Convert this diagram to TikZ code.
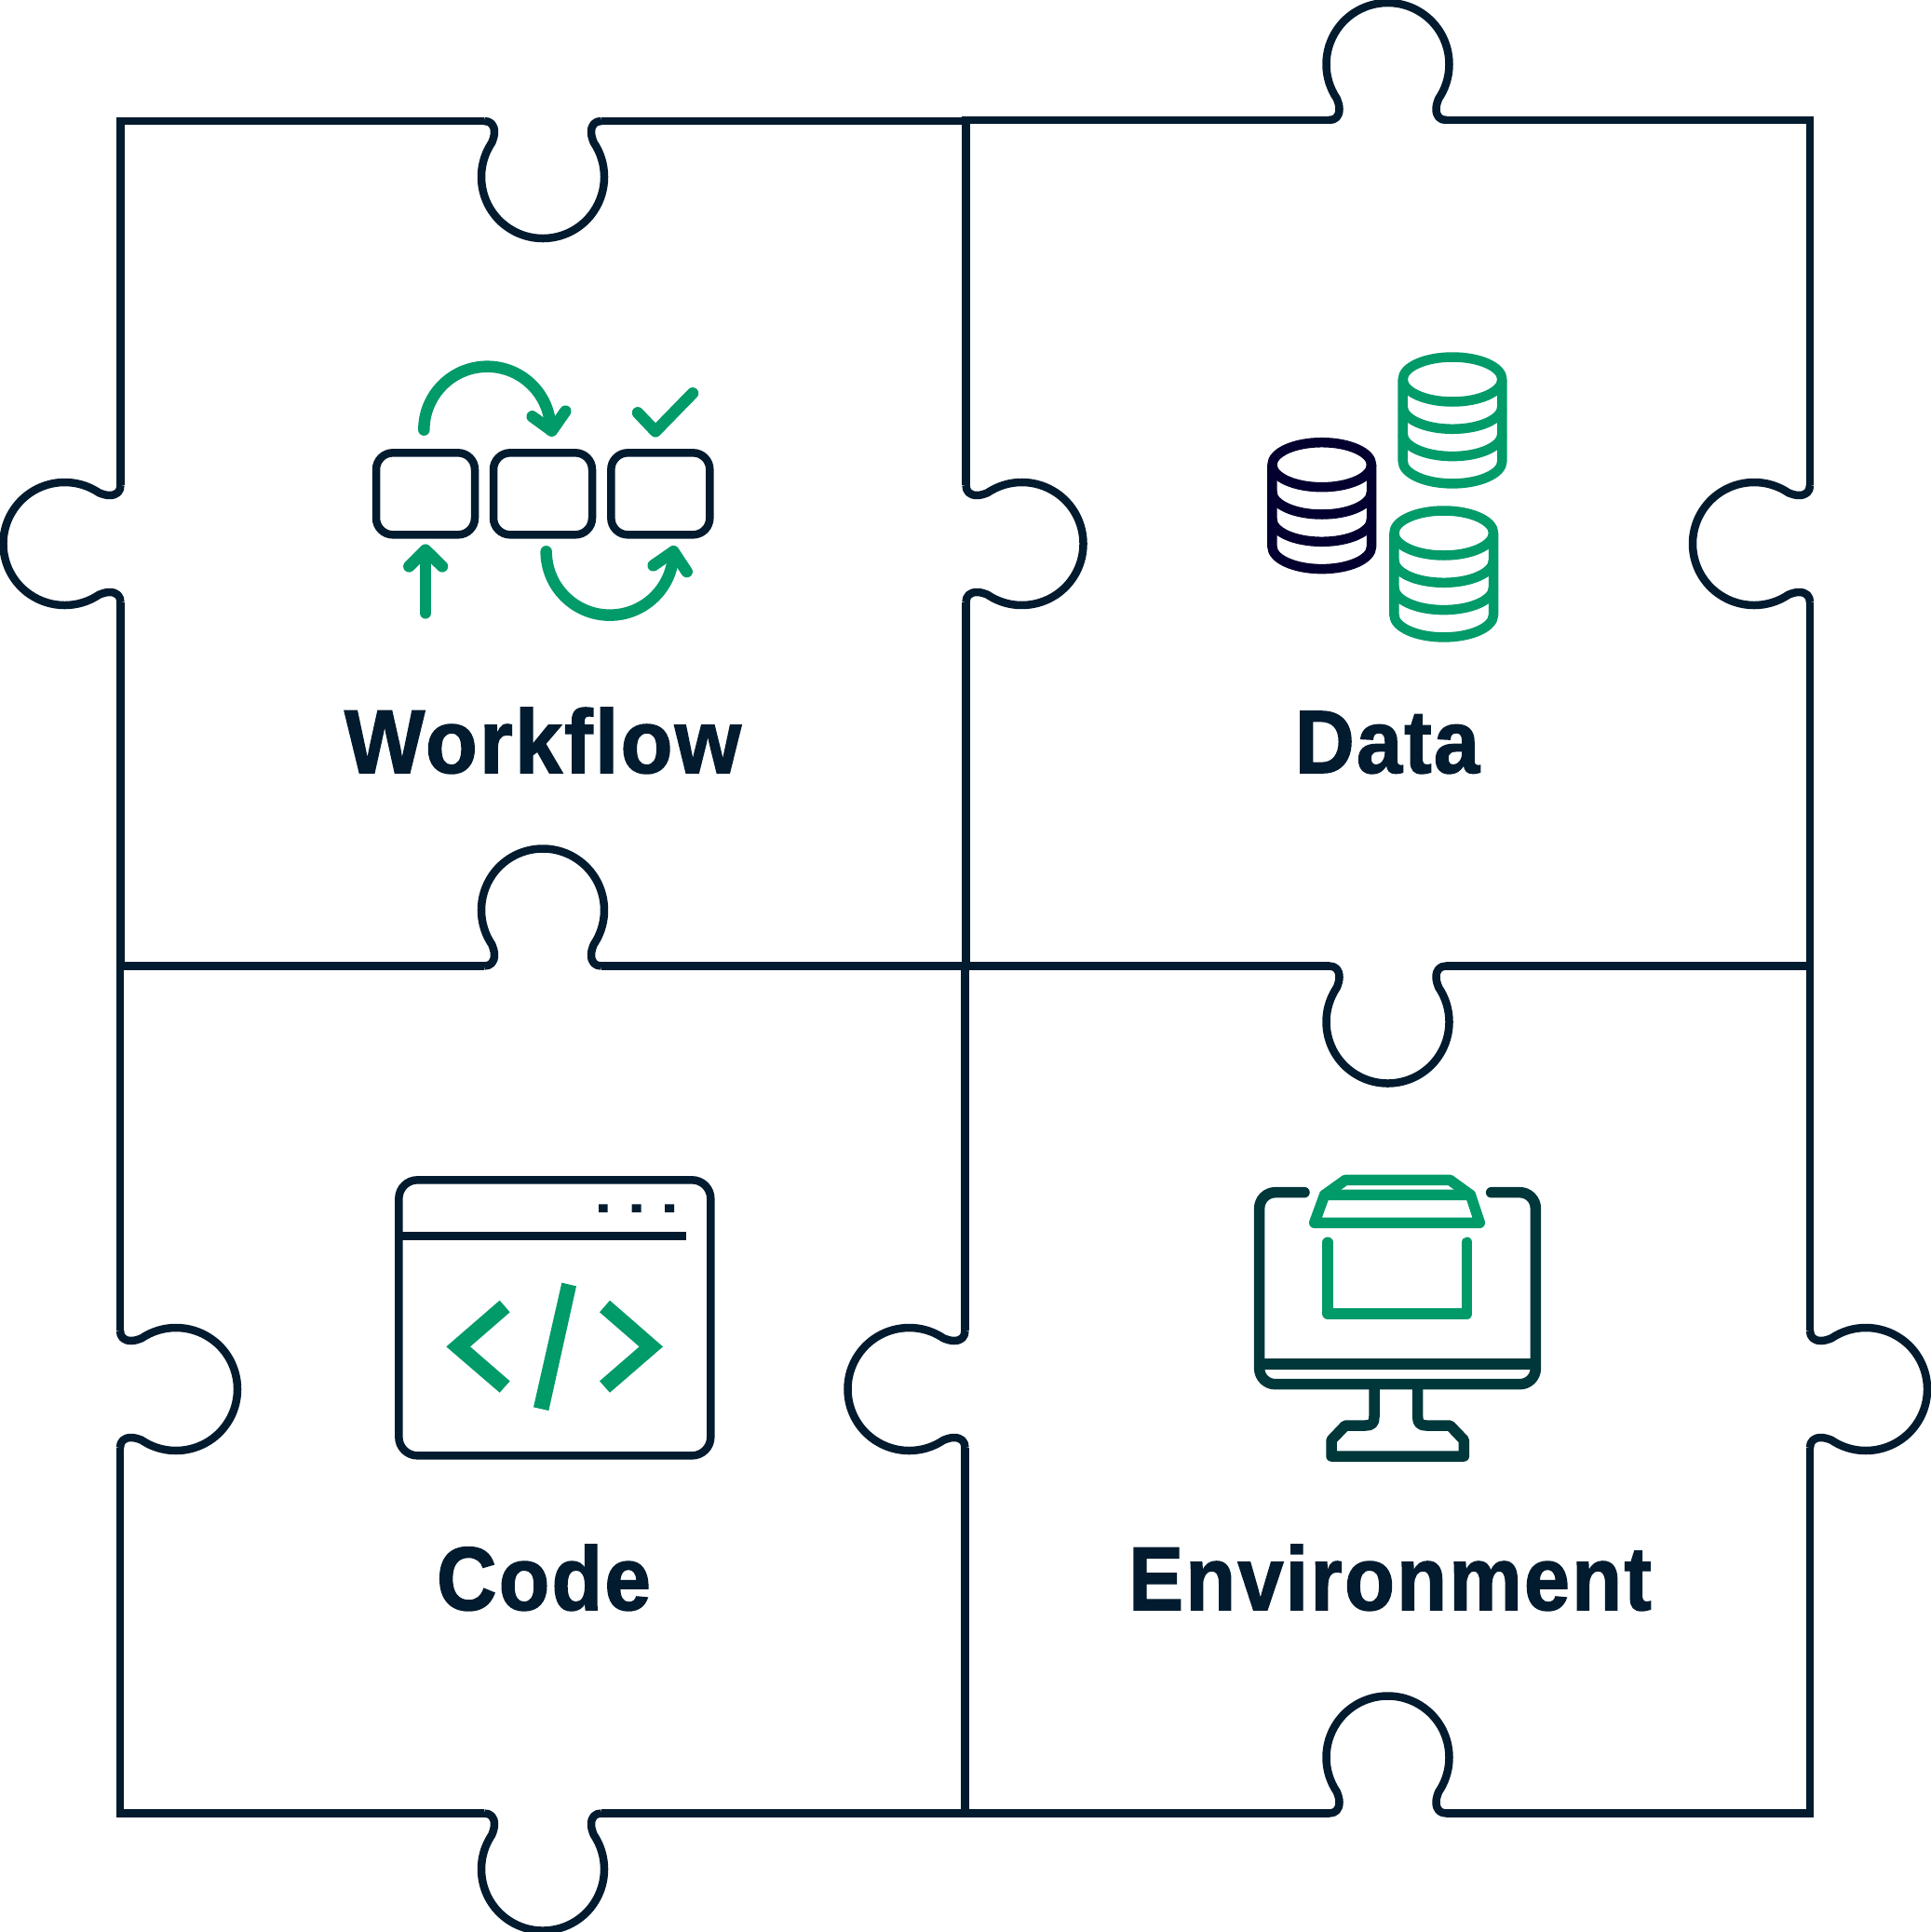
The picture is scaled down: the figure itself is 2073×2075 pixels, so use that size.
\documentclass[tikz,border=0pt]{standalone}
\usepackage{fontspec}
\usepackage{graphicx}
\newfontfamily\lab{Liberation Sans}[BoldFeatures={FakeBold=1.6,LetterSpace=2.5}]
\definecolor{navy}{HTML}{021B2F}
\definecolor{leaf}{HTML}{019A69}
\definecolor{ink}{HTML}{03002F}
\definecolor{teal}{HTML}{00373A}
\tikzset{
  frame/.style={draw=navy,line width=8.5pt,line cap=rect,line join=miter},
  knobline/.style={draw=navy,line width=8.5pt,line join=round},
  zoomed/.style={x=0.33333pt,y=-0.33333pt},
  gline/.style={draw=leaf,line width=12.5pt,line cap=round,line join=round},
  wbox/.style={draw=navy,line width=8.5pt,rounded corners=18pt},
  drum/.style={line width=10.5pt,line join=round},
  mon/.style={draw=teal,line width=11.5pt,line cap=round,line join=round},
  gbox/.style={draw=leaf,line width=11.5pt,line cap=round,line join=round},
  label/.style={anchor=base,inner sep=0pt,text=navy},
}
\newcommand{\knob}[3]{%
  \begin{scope}[shift={(#1,#2)},rotate=#3]
    \path[knobline] (-63,0) .. controls (-56,0) and (-52,4) .. (-52,12)
      .. controls (-52,16) and (-53.5,20) .. (-54.7,23.1)
      arc[start angle=214,end angle=-34,radius=66]
      .. controls (53.5,20) and (52,16) .. (52,12)
      .. controls (52,4) and (56,0) .. (63,0);
  \end{scope}}
% one stacked cylinder: centre x, first ellipse y, colour
\newcommand{\stack}[3]{%
  \begin{scope}[drum,draw=#3,shift={(#1,#2)}]
    \draw (0,0) ellipse[x radius=53.3,y radius=24];
    \draw (-53.3,0) -- (-53.3,87.9) arc[start angle=180,end angle=0,x radius=53.3,y radius=24] -- (53.3,0);
    \draw (-53.3,29.3) arc[start angle=180,end angle=0,x radius=53.3,y radius=24];
    \draw (-53.3,58.6) arc[start angle=180,end angle=0,x radius=53.3,y radius=24];
  \end{scope}}
\begin{document}
\begin{tikzpicture}[x=1pt,y=-1pt]
\useasboundingbox (0,0) rectangle (2073,2075);
% ---- frame
\path[frame] (129.5,130) -- (516.2,130) (649.8,130) -- (1037.5,130);
\path[frame] (1037.5,129) -- (1423.7,129) (1557.3,129) -- (1944,129);
\path[frame] (129,1037.5) -- (516.2,1037.5) (649.8,1037.5) -- (1423.7,1037.5) (1557.3,1037.5) -- (1944,1037.5);
\path[frame] (129,1947.5) -- (516.2,1947.5) (649.8,1947.5) -- (1423.7,1947.5) (1557.3,1947.5) -- (1944,1947.5);
\path[frame] (129.5,130) -- (129.5,517.2) (129.5,650.8) -- (129.5,1037.5);
\path[frame] (129,1037.5) -- (129,1425.2) (129,1558.8) -- (129,1947.5);
\path[frame] (1037.5,130) -- (1037.5,517.2) (1037.5,650.8) -- (1037.5,1037.5);
\path[frame] (1036.5,1037.5) -- (1036.5,1425.2) (1036.5,1558.8) -- (1036.5,1947.5);
\path[frame] (1944,129) -- (1944,517.2) (1944,650.8) -- (1944,1425.2) (1944,1558.8) -- (1944,1947.5);
\knob{583}{130}{0}
\knob{1490.5}{129}{180}
\knob{583}{1037.5}{180}
\knob{1490.5}{1037.5}{0}
\knob{583}{1947.5}{0}
\knob{1490.5}{1947.5}{180}
\knob{129.5}{584}{-90}
\knob{1037.5}{584}{90}
\knob{1944}{584}{-90}
\knob{129}{1492}{90}
\knob{1036.5}{1492}{-90}
\knob{1944}{1492}{90}
% ---- workflow icon
\begin{scope}[shift={(370,360)},zoomed]
  \draw[wbox] (102,379) rectangle (420,643);
  \draw[wbox] (480,379) rectangle (798,643);
  \draw[wbox] (859,379) rectangle (1177,643);
  \draw[gline] (256,305) arc[start angle=180,end angle=360,radius=204];
  \draw[gline] (605,262) -- (668,308) -- (712,245);
  \draw[gline] (261,895) -- (261,695);
  \draw[gline] (208,745) -- (261,692) -- (315,745);
  \draw[gline] (650,697) arc[start angle=180,end angle=0,radius=205];
  \draw[gline] (995,742) -- (1060,697) -- (1103,762);
  \draw[gline] (945,250) -- (1002,310) -- (1122,187);
\end{scope}
% ---- data icon
\stack{1560}{407.5}{leaf}
\stack{1419.7}{499.2}{ink}
\stack{1550.7}{572.5}{leaf}
% ---- code icon
\begin{scope}[shift={(410,1250)},zoomed]
  \draw[draw=navy,line width=8.5pt,rounded corners=20pt] (55,52) rectangle (1060,940);
  \draw[navy,line width=8.5pt] (55,232) -- (980,232);
  \fill[navy] (699,130) rectangle (728,156) (806,130) rectangle (836,156) (912,130) rectangle (942,156);
  \fill[leaf] (380,440) -- (208,589) -- (380,737) -- (413,700) -- (285,589) -- (413,478) -- cycle;
  \fill[leaf] (735,440) -- (906,589) -- (735,737) -- (702,700) -- (830,589) -- (702,478) -- cycle;
  \fill[leaf] (580,383) -- (627,394) -- (538,795) -- (489,784) -- cycle;
\end{scope}
% ---- environment icon
\begin{scope}[shift={(1320,1240)},zoomed]
  \draw[mon,rounded corners=17pt] (243,122) -- (98,122) -- (98,740) -- (988,740) -- (988,122) -- (845,122);
  \draw[mon,line cap=butt] (98,675) -- (988,675);
  \draw[mon,line cap=butt] (468,740) -- (468,845) .. controls (468,865) and (460,873) .. (440,873) -- (375,873) -- (330,920) -- (330,972) -- (757,972) -- (757,920) -- (712,873) -- (636,873) .. controls (616,873) and (608,865) .. (608,845) -- (608,740);
  \draw[gbox] (275,220) -- (808,220) -- (778,130) -- (308,130) -- cycle;
  \draw[gbox] (308,130) -- (375,82) -- (712,82) -- (778,130);
  \draw[gbox] (318,283) -- (318,513) -- (767,513) -- (767,283);
\end{scope}
% ---- labels
\node[label] (workflow) at (583,830) {\resizebox{426pt}{70pt}{\lab\bfseries Workflow}};
\node[label] (data) at (1490,830) {\resizebox{198pt}{66pt}{\lab\bfseries Data}};
\node[label] (code) at (584,1729) {\resizebox{230pt}{70pt}{\lab\bfseries Code}};
\node[label] (environment) at (1493,1729) {\resizebox{561pt}{70pt}{\lab\bfseries Environment}};
\end{tikzpicture}
\end{document}
